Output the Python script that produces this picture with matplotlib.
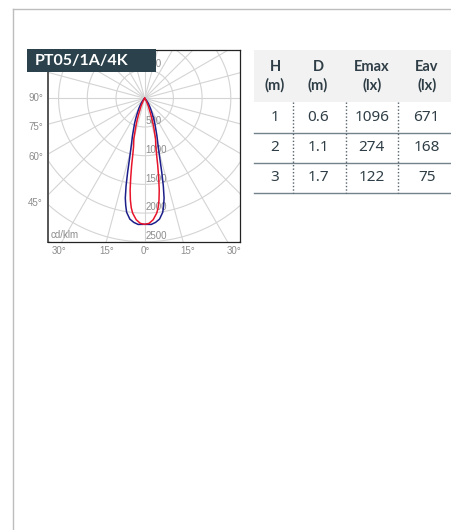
import numpy as np
import matplotlib
matplotlib.use('Agg')
import matplotlib.pyplot as plt
from matplotlib.patches import Rectangle

# ---- data ----
title = 'PT05/1A/4K'

# photometric curves, cd/klm at angle from nadir (deg), symmetric
blue_ang = [0, 3, 5, 7, 9, 10, 11, 12, 13, 14, 15, 16, 18, 20, 22, 24, 26, 30, 35, 40, 45, 50]
blue_val = [2195, 2200, 2170, 2120, 2010, 1900, 1770, 1560, 1320, 1100, 950, 840, 690, 560, 470, 380, 300, 200, 113, 50, 10, 0]
red_ang = [0, 2, 4, 6, 7, 8, 9, 10, 11, 12, 13, 14, 15, 17, 19, 21, 25, 30, 35, 40]
red_val = [2195, 2180, 2120, 2010, 1920, 1790, 1620, 1400, 1190, 990, 860, 790, 730, 550, 410, 286, 150, 60, 10, 0]

radial_ticks = [500, 1000, 1500, 2000, 2500]
left_labels = ['90°', '75°', '60°', '45°']
bottom_labels = ['30°', '15°', '0°', '15°', '30°']

col_head = [('H', '(m)'), ('D', '(m)'), ('Emax', '(lx)'), ('Eav', '(lx)')]
H_m = ['1', '2', '3']
D_m = ['0.6', '1.1', '1.7']
Emax = ['1096', '274', '122']
Eav = ['671', '168', '75']

W, H = 452, 530
plt.rcParams['font.family'] = ['Lato', 'DejaVu Sans']
fig = plt.figure(figsize=(W / 100, H / 100), dpi=100)
fig.patch.set_facecolor('white')

grid_c = '#d4d4d4'
lab_c = '#8c8c8c'
ink = '#2f3e46'
lab_font = ['Liberation Sans', 'DejaVu Sans']
tab_font = ['Noto Sans', 'DejaVu Sans']

# ---- polar diagram (cartesian axes, nadir pointing down) ----
ax = fig.add_axes([48 / W, (H - 242) / H, 192 / W, 192 / H])
ax.set_xlim(-1684, 1660)
ax.set_ylim(-2503, 841)
ax.set_xticks([])
ax.set_yticks([])
for s in ax.spines.values():
    s.set_color('#222222')
    s.set_linewidth(0.9)
ax.spines['left'].set_color('#555555')
ax.spines['left'].set_linewidth(1.4)

t = np.linspace(0, 2 * np.pi, 361)
for r in range(500, 4001, 500):
    ax.plot(r * np.sin(t), r * np.cos(t), color=grid_c, lw=0.8, zorder=1)
for a in range(0, 360, 15):
    ar = np.radians(a)
    ax.plot([0, 5000 * np.sin(ar)], [0, 5000 * np.cos(ar)], color=grid_c, lw=0.8, zorder=1)

for r in radial_ticks:
    ax.text(15, -r + 15, str(r), ha='left', va='bottom', fontsize=7, family=lab_font,
            color=lab_c, clip_on=True, zorder=2)
ax.text(15, radial_ticks[0] + 15, str(radial_ticks[0]), ha='left', va='bottom', fontsize=7,
        family=lab_font, color=lab_c, clip_on=True, zorder=2)
ax.text(0.015, 0.012, 'cd/klm', transform=ax.transAxes, ha='left', va='bottom', fontsize=7,
        family=lab_font, color=lab_c)


def curve(ang, val):
    a = np.radians(np.array(ang, dtype=float))
    v = np.array(val, dtype=float)
    a = np.concatenate([-a[::-1], a[1:]])
    v = np.concatenate([v[::-1], v[1:]])
    return v * np.sin(a), -v * np.cos(a)


bx, by = curve(blue_ang, blue_val)
rx, ry = curve(red_ang, red_val)
ax.plot(bx, by, color='#1c1f8a', lw=1.1, zorder=3)
ax.plot(rx, ry, color='#e8142b', lw=1.1, zorder=4)

# ---- page overlay in pixel coordinates ----
page = fig.add_axes([0, 0, 1, 1], zorder=5)
page.set_xlim(0, W)
page.set_ylim(H, 0)
page.axis('off')
page.patch.set_alpha(0)

page.plot([13.3, W], [9, 9], color='#bdbdbd', lw=1.0)
page.plot([13.3, 13.3], [9, H], color='#bdbdbd', lw=1.0)

page.add_patch(Rectangle((27, 49), 128.7, 23, color='#2b424c', lw=0))
page.text(35, 61, title, color='white', fontsize=11.5, weight='bold', va='center', ha='left')

for lab, y in zip(left_labels, [98.3, 126.7, 157, 202.7]):
    page.text(43, y, lab, ha='right', va='center', fontsize=7, family=lab_font, color=lab_c)
for lab, x in zip(bottom_labels, [59, 106.7, 145.5, 188, 234]):
    page.text(x, 251, lab, ha='center', va='center', fontsize=7, family=lab_font, color=lab_c)

# ---- table ----
page.add_patch(Rectangle((254, 50), W - 254, 51.7, color='#f2f2f2', lw=0))
col_x = [275, 318, 371.7, 426.7]
for x, (h1, h2) in zip(col_x, col_head):
    page.text(x, 67, h1, ha='center', va='center', fontsize=10.5, weight='bold', color=ink)
    page.text(x, 85, h2, ha='center', va='center', fontsize=10.5, weight='bold', color=ink)

row_y = [117.5, 147.7, 177.5]
for i, y in enumerate(row_y):
    for x, v in zip(col_x, [H_m[i], D_m[i], Emax[i], Eav[i]]):
        page.text(x, y, v, ha='center', va='center', fontsize=11, family=tab_font, color=ink)

for y in [132.7, 162.7, 192.7]:
    page.plot([254, W], [y, y], color='#74838a', lw=1.0)
for x in [292.7, 345.7, 398.3]:
    page.plot([x, x], [101.7, 192.7], color='#55626a', lw=1.0, ls=(0, (1, 1.5)))

fig.savefig('out.png', dpi=100)
